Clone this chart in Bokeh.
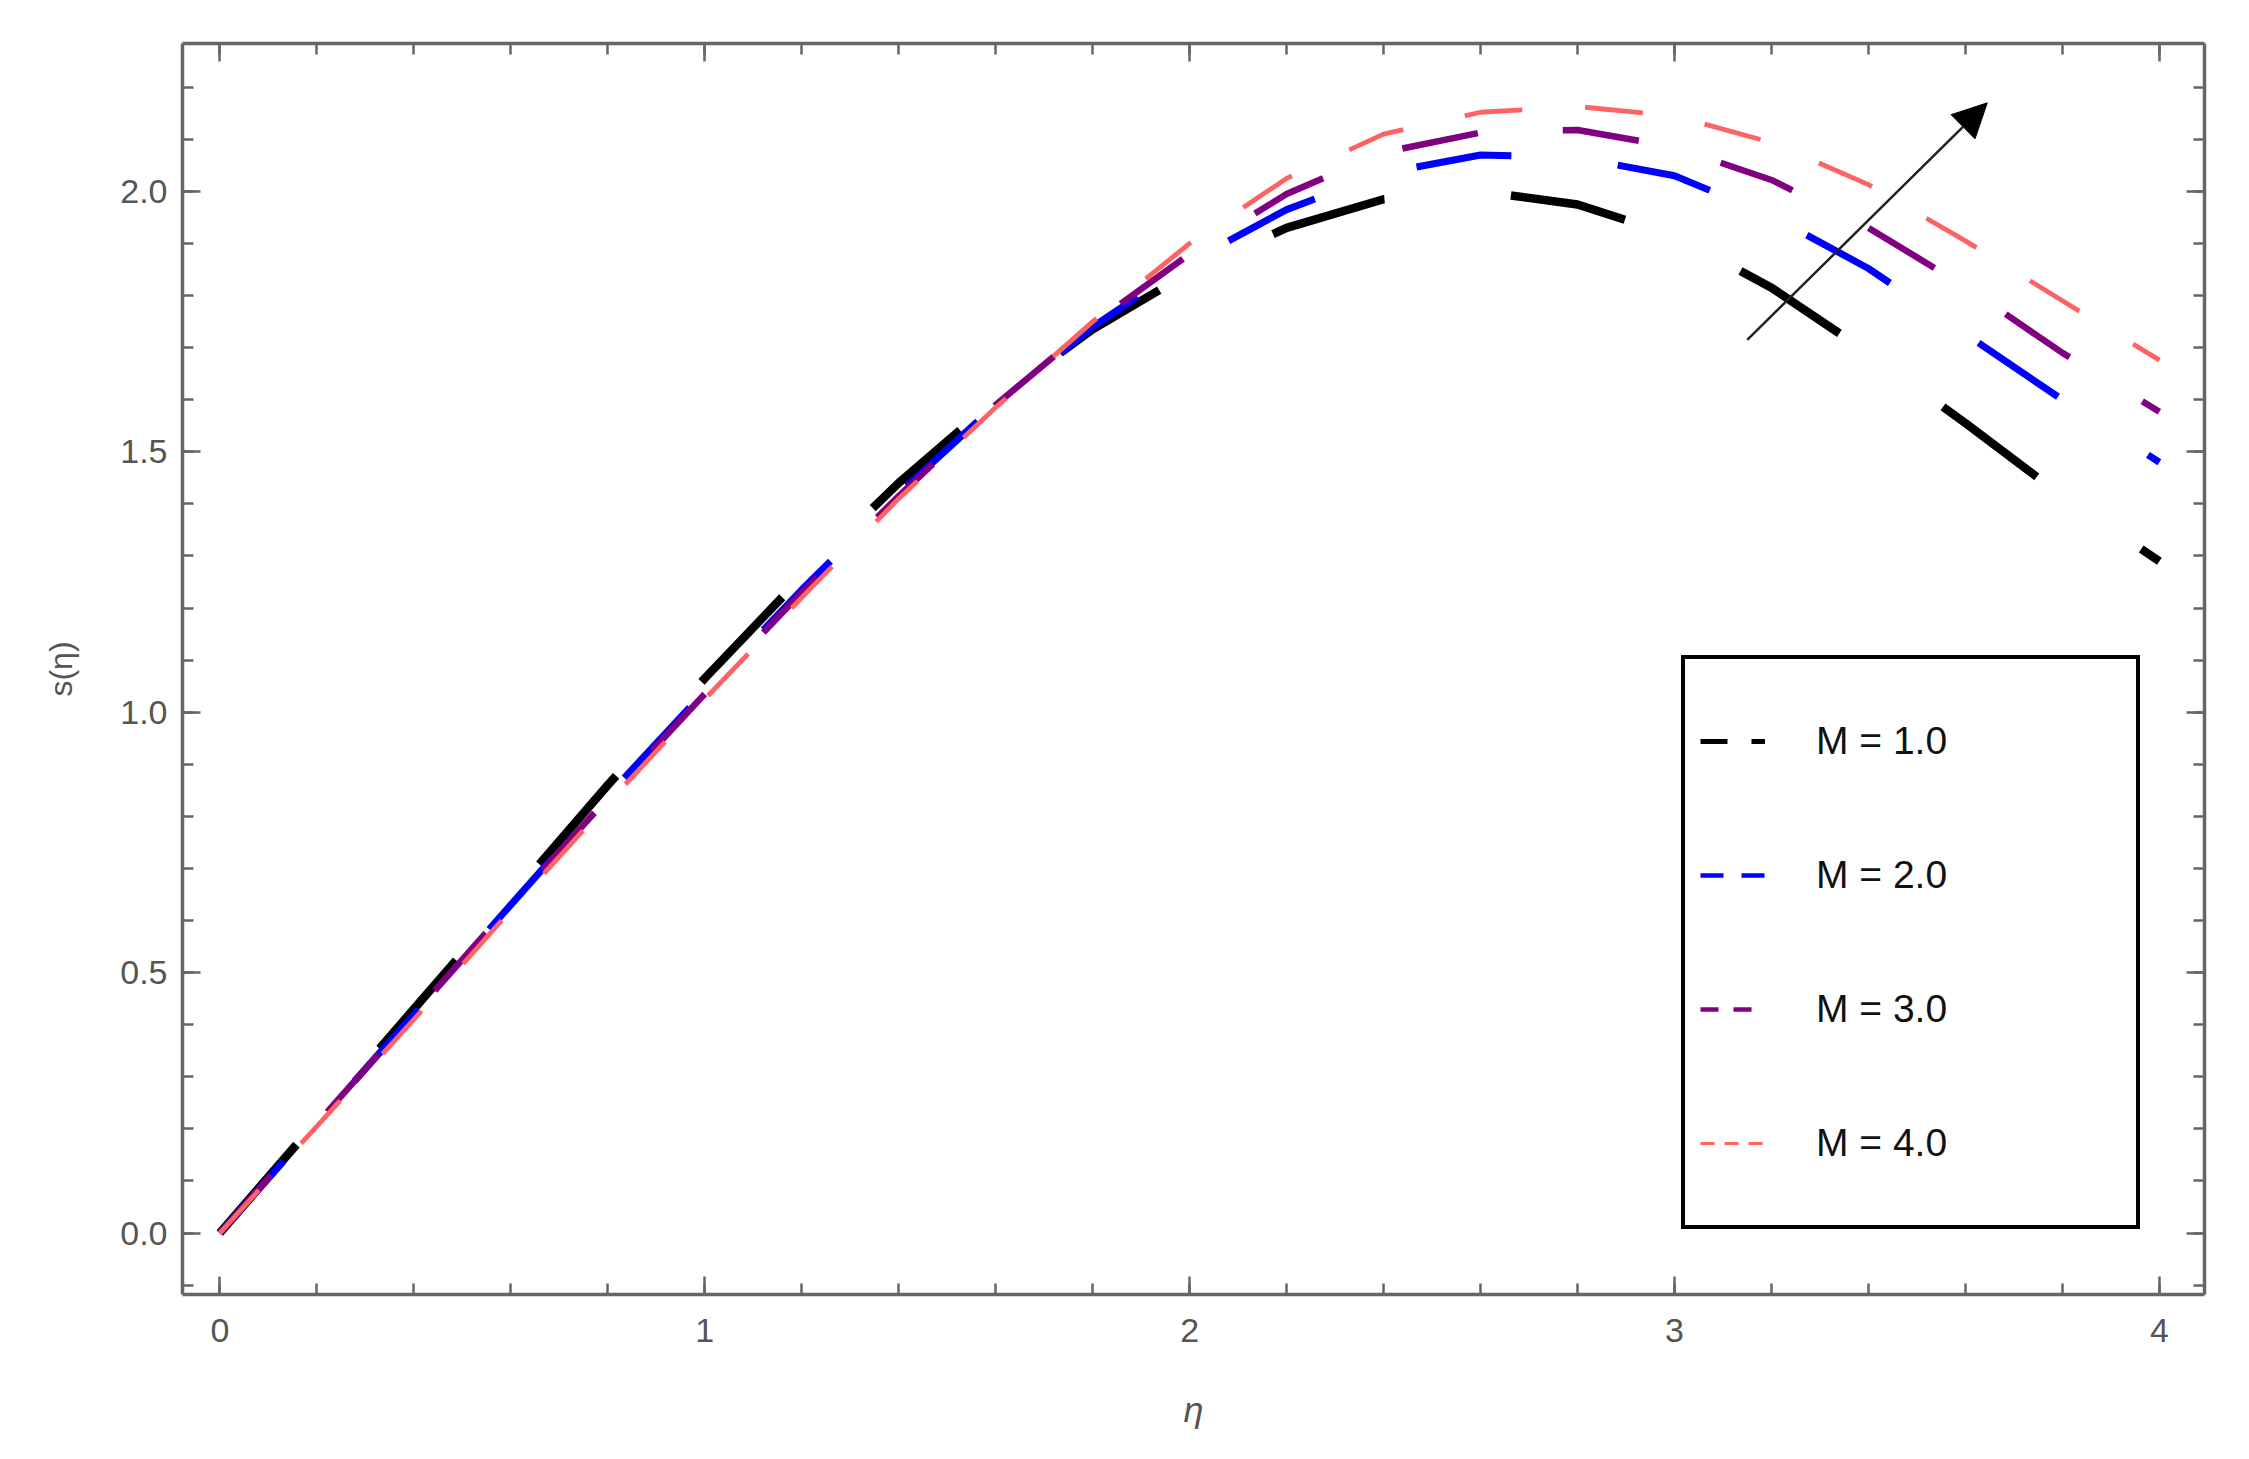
import numpy as np
from bokeh.plotting import figure
from bokeh.models import (FixedTicker, Range1d, LinearAxis, Legend, LegendItem,
                          Arrow, NormalHead)
from bokeh.embed import file_html
from bokeh.resources import INLINE

# ---------------- data ----------------
eta = [0.0, 0.2, 0.4, 0.6, 0.8, 1.0, 1.2, 1.4, 1.6, 1.8, 2.0,
       2.2, 2.4, 2.6, 2.8, 3.0, 3.2, 3.4, 3.6, 3.8, 4.0]
s_M1 = [0.0, 0.215, 0.43, 0.645, 0.86, 1.065, 1.26, 1.44, 1.60, 1.735, 1.845,
        1.93, 1.985, 2.0, 1.975, 1.915, 1.815, 1.69, 1.555, 1.415, 1.29]
s_M2 = [0.0, 0.21, 0.42, 0.63, 0.84, 1.04, 1.235, 1.42, 1.59, 1.74, 1.865,
        1.965, 2.035, 2.07, 2.065, 2.03, 1.953, 1.852, 1.726, 1.60, 1.48]
s_M3 = [0.0, 0.21, 0.42, 0.63, 0.835, 1.035, 1.23, 1.415, 1.59, 1.745, 1.88,
        1.995, 2.075, 2.113, 2.118, 2.085, 2.022, 1.93, 1.817, 1.69, 1.577]
s_M4 = [0.0, 0.205, 0.41, 0.62, 0.825, 1.025, 1.22, 1.41, 1.585, 1.75, 1.90,
        2.025, 2.11, 2.152, 2.163, 2.145, 2.094, 2.013, 1.905, 1.79, 1.676]
series = [s_M1, s_M2, s_M3, s_M4]
labels = ["M = 1.0", "M = 2.0", "M = 3.0", "M = 4.0"]

x_major = [0, 1, 2, 3, 4]
x_labels = ["0", "1", "2", "3", "4"]
y_major = [0.0, 0.5, 1.0, 1.5, 2.0]
y_labels = ["0.0", "0.5", "1.0", "1.5", "2.0"]

arrow_start = (3.15, 1.715)
arrow_end = (3.645, 2.17)

# ---------------- styles ----------------
colors = ["#000000", "#0000ff", "#800080", "#ff6262"]
widths = [8.5, 7, 6.5, 4.8]
dashes = ["117 127", "96 107", "77 85", "58 63"]
leg_dashes = ["27 24", "23 18", "18 15", "14 10"]
leg_widths = [5, 4.5, 4.5, 3.2]

FONT = "Liberation Sans"
GRAY = "#555555"
FRAME = "#666666"

p = figure(width=2245, height=1455,
           x_range=Range1d(-0.077, 4.093), y_range=Range1d(-0.118, 2.284),
           output_backend="svg", toolbar_location=None,
           min_border_left=182, min_border_right=41,
           min_border_top=43, min_border_bottom=161)
p.xgrid.visible = False
p.ygrid.visible = False
p.outline_line_color = None
p.background_fill_color = "white"

x_minor = [round(v, 2) for v in np.arange(0, 4.01, 0.2)]
y_minor = [round(v, 2) for v in np.arange(-0.1, 2.21, 0.1)]
xt = FixedTicker(ticks=x_major, minor_ticks=x_minor)
yt = FixedTicker(ticks=y_major, minor_ticks=y_minor)


def style_axis(ax, show_labels):
    ax.axis_line_color = FRAME
    ax.axis_line_width = 3.5
    ax.major_tick_line_color = FRAME
    ax.minor_tick_line_color = FRAME
    ax.major_tick_line_width = 2.5
    ax.minor_tick_line_width = 2.5
    ax.major_tick_in = 18
    ax.major_tick_out = 0
    ax.minor_tick_in = 11
    ax.minor_tick_out = 0
    if show_labels:
        ax.major_label_text_font = FONT
        ax.major_label_text_font_size = "34px"
        ax.major_label_text_color = GRAY
    else:
        ax.major_label_text_font_size = "0px"
        ax.major_label_text_alpha = 0


xa = p.xaxis[0]
xa.ticker = xt
xa.major_label_overrides = {v: t for v, t in zip(x_major, x_labels)}
style_axis(xa, True)
xa.major_label_standoff = 24
xa.axis_label = "η"
xa.axis_label_text_font = FONT
xa.axis_label_text_font_style = "italic"
xa.axis_label_text_font_size = "36px"
xa.axis_label_text_color = GRAY
xa.axis_label_standoff = 44

ya = p.yaxis[0]
ya.ticker = yt
ya.major_label_overrides = {v: t for v, t in zip(y_major, y_labels)}
style_axis(ya, True)
ya.major_label_standoff = 15
ya.axis_label = "s(η)"
ya.axis_label_text_font = FONT
ya.axis_label_text_font_style = "normal"
ya.axis_label_text_font_size = "32px"
ya.axis_label_text_color = GRAY
ya.axis_label_standoff = 38

top = LinearAxis(ticker=xt)
style_axis(top, False)
p.add_layout(top, "above")
right = LinearAxis(ticker=yt)
style_axis(right, False)
p.add_layout(right, "right")

# curves
for s, c, w, d in zip(series, colors, widths, dashes):
    p.line(eta, s, line_color=c, line_width=w, line_dash=d, line_cap="butt")

# legend-only renderers (zero-length lines at the origin; only their dash sample is shown)
items = []
for lab, s, c, w, d in zip(labels, series, colors, leg_widths, leg_dashes):
    r = p.line([eta[0], eta[0]], [s[0], s[0]], line_color=c, line_width=w,
               line_dash=d, line_cap="butt")
    items.append(LegendItem(label=lab, renderers=[r]))

legend = Legend(items=items, location=(1499, 65), padding=15, spacing=0,
                margin=0, glyph_width=65, glyph_height=134, label_height=134,
                label_width=305, label_standoff=51,
                border_line_color="black", border_line_width=4,
                border_line_alpha=1.0,
                background_fill_color="white", background_fill_alpha=1,
                label_text_font=FONT, label_text_font_size="39px",
                label_text_color="#111111")
p.add_layout(legend)

p.add_layout(Arrow(x_start=arrow_start[0], y_start=arrow_start[1],
                   x_end=arrow_end[0], y_end=arrow_end[1],
                   line_color="#222222", line_width=2.5,
                   end=NormalHead(size=34, fill_color="black",
                                  line_color="black", line_width=1)))

open("out.html", "w").write(file_html(p, INLINE))
